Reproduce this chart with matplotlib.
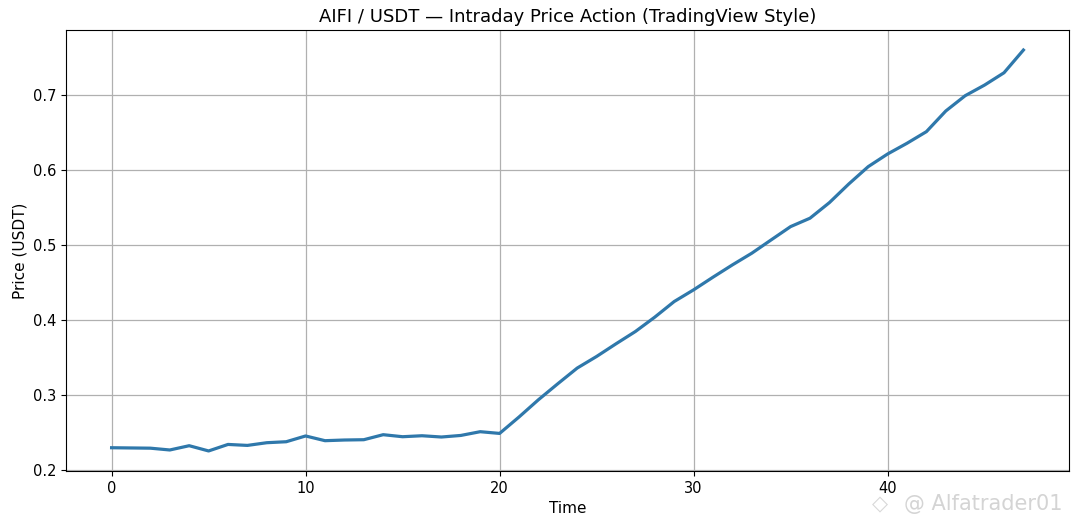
import matplotlib
matplotlib.use("Agg")
import matplotlib.pyplot as plt

time = list(range(48))
price = [0.2293, 0.2290, 0.2287, 0.2263, 0.2320, 0.2250, 0.2337, 0.2324, 0.2360, 0.2373,
         0.2450, 0.2387, 0.2396, 0.2400, 0.2467, 0.2440, 0.2453, 0.2436, 0.2457, 0.2507,
         0.2484, 0.2703, 0.2933, 0.3147, 0.3356, 0.3511, 0.3680, 0.3844, 0.4036, 0.4244,
         0.4400, 0.4569, 0.4733, 0.4889, 0.5067, 0.5244, 0.5356, 0.5564, 0.5813, 0.6044,
         0.6213, 0.6356, 0.6511, 0.6787, 0.6991, 0.7133, 0.7297, 0.7600]

title = "AIFI / USDT — Intraday Price Action (TradingView Style)"
xlabel = "Time"
ylabel = "Price (USDT)"
watermark = "@ Alfatrader01"

fig = plt.figure(figsize=(10.79, 5.28), dpi=100)
ax = fig.add_axes([66/1079, 1-471/528, (1069-66)/1079, (471-30)/528])
ax.plot(time, price, color="#2f78ab", linewidth=2.3)
ax.grid(True, color="#b0b0b0", linewidth=0.9)
ax.set_title(title, fontsize=13)
ax.set_xlabel(xlabel, fontsize=11)
ax.set_ylabel(ylabel, fontsize=11)
ax.tick_params(labelsize=10.5)
fig.text(0.808, 0.045, "◇", fontsize=15, color="#d8d8d8", ha="left", va="center")
fig.text(0.838, 0.045, watermark, fontsize=15, color="#d4d4d4", ha="left", va="center")
fig.savefig("out.png", dpi=100)
